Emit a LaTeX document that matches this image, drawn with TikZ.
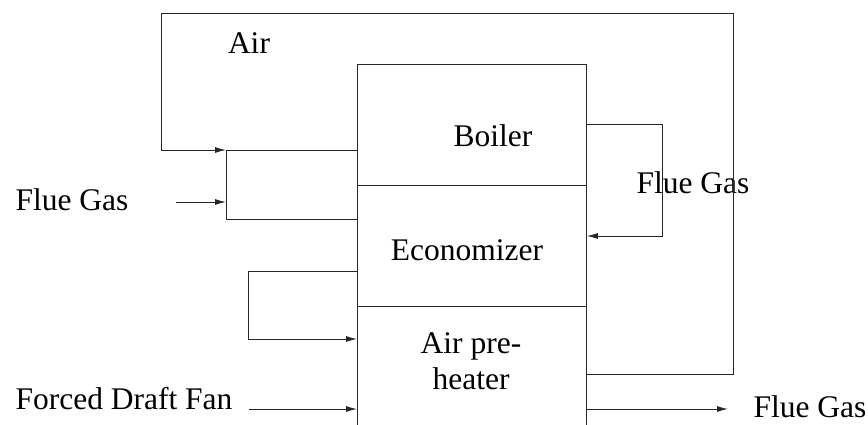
\documentclass[tikz,border=0pt]{standalone}
\usepackage{fontspec}
\setmainfont{Liberation Serif}
\usetikzlibrary{arrows.meta}
\begin{document}
\begin{tikzpicture}[x=1pt,y=-1pt,
  wire/.style={line width=0.9pt, draw=black!85},
  arr/.style={wire, -{Latex[length=11pt,width=6pt]}},
  block/.style={wire, draw, rectangle, anchor=north west, inner sep=0pt},
  lbl/.style={anchor=base, inner sep=0pt, font=\fontsize{31.5}{36}\selectfont, align=center}]
\useasboundingbox (0,0) rectangle (868,424);
% blocks
\node[block, minimum width=229pt, minimum height=121pt] (boiler) at (357,64) {};
\node[block, minimum width=229pt, minimum height=121pt] (econ) at (357,185) {};
\node[block, minimum width=229pt, minimum height=124pt] (apre) at (357,306) {};
% labels
\node[lbl] (tboiler) at (493,146) {Boiler};
\node[lbl] (tecon) at (467,260) {Economizer};
\node[lbl] (tapre) at (471,389) {Air pre-\\heater};
\node[lbl] (tair) at (249,53) {Air};
\node[lbl] (tfgl) at (72,210) {Flue Gas};
\node[lbl] (tfgr) at (693,193) {Flue Gas};
\node[lbl] (tfgo) at (810,417) {Flue Gas};
\node[lbl] (tfdf) at (124,409) {Forced Draft Fan};
% coordinates
\coordinate (a0) at (apre.east |- 0,374);
\coordinate (a1) at (733,374);
\coordinate (a2) at (733,13);
\coordinate (a3) at (161,13);
\coordinate (a4) at (161,150);
\coordinate (m1) at (226,150);
\coordinate (b1) at (boiler.west |- 0,150);
\coordinate (m2) at (226,219);
\coordinate (e1) at (econ.west |- 0,219);
\coordinate (fg0) at (176,202);
\coordinate (fg1) at (226,202);
\coordinate (r0) at (boiler.east |- 0,124);
\coordinate (r1) at (662,124);
\coordinate (r2) at (662,236);
\coordinate (r3) at (econ.east |- 0,236);
\coordinate (l0) at (econ.west |- 0,271);
\coordinate (l1) at (248,271);
\coordinate (l2) at (248,339);
\coordinate (l3) at (apre.west |- 0,339);
\coordinate (f0) at (249,409);
\coordinate (f1) at (apre.west |- 0,409);
\coordinate (o0) at (apre.east |- 0,409);
\coordinate (o1) at (728,409);
% connectors
\draw[arr] (a0) -- (a1) -- (a2) -- (a3) -- (a4) -- (m1);
\draw[wire] (m1) -- (b1);
\draw[wire] (m1) -- (m2) -- (e1);
\draw[arr] (fg0) -- (fg1);
\draw[arr] (r0) -- (r1) -- (r2) -- (r3);
\draw[arr] (l0) -- (l1) -- (l2) -- (l3);
\draw[arr] (f0) -- (f1);
\draw[arr] (o0) -- (o1);
\end{tikzpicture}
\end{document}
